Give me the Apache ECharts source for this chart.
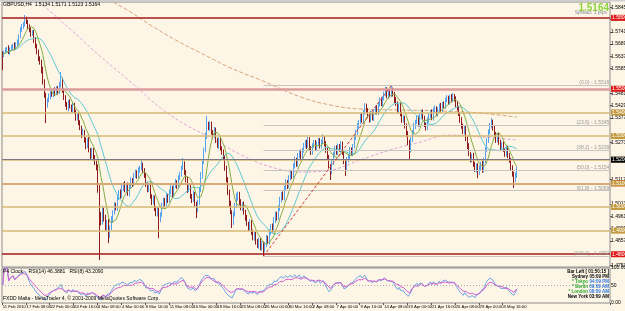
<!DOCTYPE html>
<html><head><meta charset="utf-8">
<script src="https://cdn.jsdelivr.net/npm/echarts@6/dist/echarts.min.js"></script>
<style>html,body{margin:0;padding:0;background:#FDF5E6}#c{width:625px;height:311px}</style>
</head><body><div id="c"></div>
<script>
// GBPUSD H4 closes, in pips (price * 10000)
const closes = [
15643,15655,15664,15672,15655,15668,15676,15685,15672,15689,
15698,15723,15748,15765,15774,15791,15782,15765,15748,15731,
15740,15706,15681,15655,15630,15613,15579,15528,15474,15431,
15452,15469,15486,15474,15495,15482,15503,15486,15516,15537,
15495,15461,15435,15418,15444,15427,15410,15431,15401,15376,
15389,15359,15334,15304,15317,15283,15258,15283,15241,15215,
15241,15207,15190,15165,15072,14966,14936,14987,14953,14911,
14936,14881,14911,14945,14978,15008,14995,15038,15063,15046,
15080,15097,15072,15088,15055,15088,15114,15097,15131,15148,
15131,15156,15165,15177,15156,15131,15097,15072,15088,15046,
15021,15038,14995,14970,14987,14945,14970,15004,15029,15012,
15046,15029,15063,15080,15055,15088,15105,15088,15122,15139,
15165,15182,15148,15114,15072,15088,15046,15029,15055,15012,
14987,15021,15072,15131,15190,15241,15300,15351,15334,15351,
15317,15300,15325,15283,15258,15283,15249,15232,15207,15165,
15114,15063,15012,14978,14936,14970,15004,15038,15055,15021,
14995,15012,14978,14953,14928,14911,14936,14894,14868,14885,
14851,14835,14860,14826,14843,14818,14843,14868,14851,14894,
14919,14902,14945,14970,14953,14995,15029,15055,15038,15080,
15105,15088,15122,15148,15131,15173,15199,15182,15215,15232,
15207,15241,15258,15274,15258,15283,15249,15232,15258,15274,
15249,15266,15283,15258,15274,15291,15266,15241,15207,15173,
15148,15190,15220,15249,15232,15258,15241,15266,15232,15190,
15165,15199,15215,15241,15228,15258,15291,15317,15342,15359,
15385,15368,15401,15427,15410,15385,15368,15393,15376,15401,
15418,15401,15435,15452,15435,15461,15478,15495,15469,15486,
15474,15495,15478,15452,15435,15410,15427,15393,15368,15376,
15342,15308,15274,15241,15283,15317,15342,15359,15376,15351,
15385,15401,15376,15351,15334,15368,15385,15401,15376,15410,
15418,15393,15410,15427,15410,15435,15427,15452,15461,15444,
15465,15452,15469,15457,15435,15418,15393,15368,15342,15317,
15334,15291,15258,15224,15199,15215,15182,15156,15173,15148,
15165,15182,15156,15199,15241,15283,15317,15342,15359,15334,
15308,15283,15300,15274,15249,15266,15241,15224,15249,15215,
15199,15165,15139,15114,15134,15164];
const firstOpen = 15650;
// upper / lower wick beyond the body, in pips
const hiExt = [
8,6,10,5,12,7,9,6,11,8, 10,7,12,9,8,21,14,9,7,12, 10,8,13,9,11,7,10,14,12,9, 8,12,7,10,6,11,9,8,13,34,
10,7,12,9,8,11,6,13,9,10, 7,12,8,10,14,9,11,7,12,8, 10,9,13,8,15,20,12,18,10,14, 9,13,11,16,8,12,10,14,9,11,
13,8,12,10,15,9,11,8,13,10, 7,12,9,22,10,8,13,9,11,14, 8,12,10,9,13,11,7,14,10,9, 12,8,11,13,9,10,14,8,12,10,
9,25,11,8,13,10,12,9,14,8, 11,10,13,16,12,10,14,34,9,12, 10,8,13,11,9,12,10,8,11,13, 9,12,10,14,8,11,13,22,10,9,
12,8,11,10,13,9,12,8,10,11, 9,13,10,8,12,11,9,14,10,12, 8,11,13,9,10,12,14,8,11,10, 13,9,12,10,8,11,14,9,12,10,
11,8,13,9,10,13,12,8,11,10, 9,12,10,8,11,17,9,12,10,13, 8,11,14,9,12,10,8,13,11,9, 10,12,9,13,11,8,12,10,14,9,
11,13,9,12,10,8,11,14,9,12, 10,13,9,11,12,8,10,13,11,9, 12,21,10,9,13,11,8,12,10,14, 9,11,13,10,12,8,14,9,11,10,
13,9,12,10,8,11,13,9,12,10, 11,8,12,10,13,9,11,10,12,9, 10,12,13,9,11,14,10,8,12,11, 9,13,10,12,8,11,14,9,10,12,
11,9,13,10,12,8,11,14,17,10, 12,9,11,13,10,8,12,9,11,10, 13,9,11,10,12,7];
const loExt = [
64,9,7,11,8,12,6,10,9,7, 8,11,9,7,12,10,8,13,9,11, 7,12,10,9,13,11,14,10,12,76, 11,9,13,8,10,12,9,11,8,10,
12,9,11,8,13,10,9,12,8,11, 10,13,9,12,8,11,14,9,10,12, 9,11,13,10,12,190,14,11,15,12, 10,34,12,9,13,11,10,12,8,11,
9,13,10,12,8,11,9,13,10,8, 12,9,11,10,13,8,12,10,9,11, 13,10,12,9,11,77,10,12,9,11, 8,12,10,9,13,11,8,12,10,9,
11,8,12,10,13,9,11,12,8,10, 34,10,12,9,11,8,10,12,9,13, 11,10,9,12,8,13,10,11,9,12, 10,13,11,9,25,12,10,8,11,13,
9,12,10,11,8,13,10,12,9,11, 10,8,12,9,11,26,10,12,9,11, 12,10,9,13,11,8,12,10,9,11, 10,12,8,11,13,9,10,12,11,9,
12,10,11,9,13,8,10,12,11,9, 10,13,9,11,12,8,10,12,9,11, 34,10,12,9,11,13,8,10,12,9, 34,11,10,12,9,13,10,8,11,12,
9,11,13,10,12,8,11,9,10,12, 11,9,12,10,8,13,11,10,9,12, 10,9,11,12,8,13,10,9,12,11, 10,12,13,42,11,9,10,12,8,11,
12,10,9,13,11,8,12,10,9,11, 13,9,10,12,11,8,10,12,9,11, 12,10,9,11,13,10,8,12,11,9, 10,12,13,9,11,10,12,8,11,26,
12,9,11,10,13,8,12,10,9,11, 10,12,9,11,13,10,8,12,11,9, 12,10,11,34,9,11];
const slotCount = 408;
const tickLabels = ["11 Feb 2010","17 Feb 08:00","22 Feb 00:00","24 Feb 16:00","1 Mar 08:00","4 Mar 00:00","8 Mar 16:00","11 Mar 08:00","16 Mar 00:00","18 Mar 16:00","23 Mar 08:00","26 Mar 00:00","30 Mar 16:00","2 Apr 08:00","7 Apr 00:00","9 Apr 16:00","14 Apr 08:00","19 Apr 00:00","21 Apr 16:00","26 Apr 08:00","29 Apr 00:00","3 May 16:00"];
const priceTicks = [1.5845,1.5793,1.5741,1.5689,1.5637,1.5585,1.5481,1.5429,1.5377,1.5273,1.5117,1.5013,1.4961,1.4909,1.4857,1.4753];
const redLevels = [1.5816, 1.5530, 1.5150, 1.4805];
const goldLevels = [1.5400, 1.5325, 1.5210, 1.5070, 1.5000, 1.4895];
const fibRatios = [0, 23.6, 38.2, 50, 61.8, 100];
const fibLowIdx = 175, fibHighIdx = 261;
// slow moving averages: [bar index, pips]
const pinkMA = [[0,15981],[12,15917],[25,15863],[46,15748],[66,15634],[86,15528],[106,15418],[123,15347],[140,15291],[160,15220],[180,15169],[200,15148],[220,15156],[240,15199],[260,15241],[280,15274],[300,15304],[321,15296],[345,15283]];
const tanMA = [[0,16120],[40,16000],[72,15875],[86,15824],[99,15770],[116,15706],[133,15651],[153,15588],[173,15537],[200,15465],[220,15431],[240,15414],[267,15410],[294,15406],[321,15397],[345,15380]];
const titleText = "GBPUSD,H4  1.5134 1.5171 1.5123 1.5164";
const rsiTitle = "P4 Clock    RSI(14) 46.3881   RSI(8) 43.2090";
const footText = "FXDD Malta - MetaTrader 4, \u00A9 2001-2009 MetaQuotes Software Corp.";
const bigPrice = "1.5164";
const spreadText = "Spread: 1 pips";
const clockRows = [["Sydney","05:09 PM"],["* Tokyo","04:09 PM"],["* Berlin","09:09 AM"],["* London","08:09 AM"],["New York","03:09 AM"]];
const barLeft = "Bar Left [ 01:50:15 ]";

const N = closes.length;
const cats = Array.from({length: slotCount}, (_, i) => String(i));
const ohlc = closes.map((c, i) => {
  const o = i ? closes[i-1] : firstOpen;
  return [o/1e4, c/1e4, (Math.min(o,c)-loExt[i])/1e4, (Math.max(o,c)+hiExt[i])/1e4];
});
function sma(p){ return closes.map((c,i)=>{ let s=0,n=0; for(let k=Math.max(0,i-p+1);k<=i;k++){s+=closes[k];n++;} return s/n/1e4; }); }
function rsi(p){ const out=[]; let ag=0, al=0;
  for(let i=0;i<N;i++){ if(i===0){out.push(50);continue;}
    const d=closes[i]-closes[i-1], g=Math.max(d,0), l=Math.max(-d,0);
    if(i<=p){ ag=(ag*(i-1)+g)/i; al=(al*(i-1)+l)/i; } else { ag=(ag*(p-1)+g)/p; al=(al*(p-1)+l)/p; }
    out.push(al===0?100:100-100/(1+ag/al)); }
  return out; }
const lowV = ohlc[fibLowIdx][2], highV = ohlc[fibHighIdx][3];
const lastClose = closes[N-1]/1e4;

const FONT = '"Liberation Sans", Arial, sans-serif';
function boxLabel(bg, fg){ return {show:true, position:'end', distance:1, formatter:p=>Number(p.value).toFixed(4), fontSize:5, color:fg||'#fff', backgroundColor:bg, padding:[1,1,0,1], fontFamily:FONT}; }
const levelLines = [];
const redStyles = [{color:'#A31A1A',width:1.5},{color:'#DC9C9C',width:2.5},{color:'#D45A5A',width:1.5},{color:'#A31A1A',width:1.5}];
redLevels.forEach((v,k)=>levelLines.push({yAxis:v, lineStyle:Object.assign({type:'solid'},redStyles[k]), label:boxLabel('#E01818')}));
goldLevels.forEach(v=>levelLines.push({yAxis:v, lineStyle:{color:'#D6B874',width:1.6,type:'solid'}, label:boxLabel('#C49A3E')}));
levelLines.push({yAxis:lastClose, lineStyle:{color:'#7A7684',width:1,type:'solid'}, label:boxLabel('#000')});

const fibLines = fibRatios.map(r=>{
  const v = highV - (highV-lowV)*r/100;
  const lab = {show:true, position:'insideEndTop', distance:[0,0], formatter:'(' + r.toFixed(1) + ') - ' + v.toFixed(4), fontSize:5, color:'#9A9A9A', fontFamily:FONT};
  return [{coord:[fibLowIdx, v], lineStyle:{color:'#C8C4C0',width:1,type:'solid'}, label:lab},{coord:[slotCount-1, v]}];
});
fibLines.push([{coord:[fibLowIdx, lowV], lineStyle:{color:'#C84040',width:1,type:[3,2]}, label:{show:false}},{coord:[fibHighIdx, highV]}]);

const isTick = idx => idx % 16 === 0 && idx/16 < tickLabels.length;

const chart = echarts.init(document.getElementById('c'), null, {renderer:'canvas'});
const txt = (text, x, y, fill, font, align) => ({type:'text', x, y, silent:true, z:100, style:{text, fill, font, textAlign:align||'left', align:align||'left', textVerticalAlign:'middle', verticalAlign:'middle'}});
const graphics = [
  {type:'rect', shape:{x:0,y:0,width:625,height:1.5}, style:{fill:'#CFCFCF'}, silent:true},
  txt(titleText, 3, 5, '#000', '5px ' + FONT),
  txt(bigPrice, 609, 8, '#8CD43C', 'bold 10px ' + FONT, 'right'),
  txt(spreadText, 607, 12.5, '#8888A0', '5px ' + FONT, 'right'),
  txt(rsiTitle, 3, 272, '#000', '5px ' + FONT),
  txt(footText, 3, 299, '#000', '5px ' + FONT),
  txt(barLeft, 609, 272, '#000', 'bold 4.5px ' + FONT, 'right')
];
clockRows.forEach((r,k)=>{
  const y = 277 + k*5;
  const plain = (k===0 || k===clockRows.length-1);
  graphics.push(txt(r[0], 588, y, plain?'#000':'#2EA82E', 'bold 4.5px ' + FONT, 'right'));
  graphics.push(txt(r[1], 609, y, plain?'#000':'#2A78E0', 'bold 4.5px ' + FONT, 'right'));
});

chart.setOption({
  animation:false,
  backgroundColor:'#FDF5E6',
  textStyle:{fontFamily:FONT},
  grid:[
    {left:2, right:15, top:2, height:265, show:true, borderColor:'#8C8C8C', borderWidth:1, containLabel:false, outerBoundsMode:'none'},
    {left:2, right:15, top:268, height:35, show:true, borderColor:'#8C8C8C', borderWidth:1, containLabel:false, outerBoundsMode:'none'}
  ],
  xAxis:[
    {type:'category', gridIndex:0, data:cats, axisLine:{show:false}, axisTick:{show:false}, axisLabel:{show:false}, splitLine:{show:false}},
    {type:'category', gridIndex:1, data:cats, axisLine:{show:false},
     axisTick:{show:true, interval:isTick, length:2, lineStyle:{color:'#555'}},
     axisLabel:{interval:0, hideOverlap:false, align:'left',
       formatter:(v)=>{ const i=Number(v); return isTick(i) ? tickLabels[i/16] : ''; },
       fontSize:4.2, color:'#000', margin:2}}
  ],
  yAxis:[
    {type:'value', gridIndex:0, position:'right', min:1.4746, max:1.5867, splitLine:{show:false}, axisLine:{show:false},
     axisTick:{show:true, customValues:priceTicks, length:2, lineStyle:{color:'#555'}},
     axisLabel:{customValues:priceTicks, formatter:v=>v.toFixed(4), fontSize:5, margin:1, color:'#000'}},
    {type:'value', gridIndex:1, position:'right', min:0, max:100, splitLine:{show:false}, axisLine:{show:false},
     axisTick:{show:false},
     axisLabel:{customValues:[0,50,100], formatter:v=>v===50?'50':v.toFixed(2), fontSize:5, margin:1, color:'#000'}}
  ],
  graphic:graphics,
  series:[
    {type:'line', xAxisIndex:0, yAxisIndex:0, data:closes.map(c=>c/1e4), showSymbol:false, lineStyle:{opacity:0}, silent:true, z:1,
     markLine:{silent:true, symbol:'none', animation:false, data:levelLines}},
    {type:'line', xAxisIndex:0, yAxisIndex:0, data:[], showSymbol:false, silent:true, z:1,
     markLine:{silent:true, symbol:'none', animation:false, data:fibLines}},
    {type:'line', xAxisIndex:0, yAxisIndex:0, data:tanMA.map(p=>[p[0],p[1]/1e4]), smooth:0.4, showSymbol:false, silent:true, z:2,
     lineStyle:{color:'#D8A47C', width:1, type:[4,2]}},
    {type:'line', xAxisIndex:0, yAxisIndex:0, data:pinkMA.map(p=>[p[0],p[1]/1e4]), smooth:0.4, showSymbol:false, silent:true, z:2,
     lineStyle:{color:'#DDA6D6', width:1, type:[3,2]}},
    {type:'candlestick', xAxisIndex:0, yAxisIndex:0, data:ohlc, barWidth:1.3, z:3, silent:true,
     itemStyle:{color:'#55A3EE', color0:'#8E1C1C', borderColor:'#55A3EE', borderColor0:'#8E1C1C', borderWidth:1}},
    {type:'line', xAxisIndex:0, yAxisIndex:0, data:sma(21), showSymbol:false, silent:true, z:4,
     lineStyle:{color:'#5CC8D2', width:1}},
    {type:'line', xAxisIndex:0, yAxisIndex:0, data:sma(8), showSymbol:false, silent:true, z:4,
     lineStyle:{color:'#84AC42', width:1}},
    {type:'line', xAxisIndex:1, yAxisIndex:1, data:rsi(8), showSymbol:false, silent:true, z:3,
     lineStyle:{color:'#6AA4E4', width:1},
     markLine:{silent:true, symbol:'none', animation:false, label:{show:false}, data:[{yAxis:50, lineStyle:{color:'#A8A8A8', type:[1,2], width:1}}]}},
    {type:'line', xAxisIndex:1, yAxisIndex:1, data:rsi(14), showSymbol:false, silent:true, z:4,
     lineStyle:{color:'#D45ED4', width:1}}
  ]
});
</script></body></html>
